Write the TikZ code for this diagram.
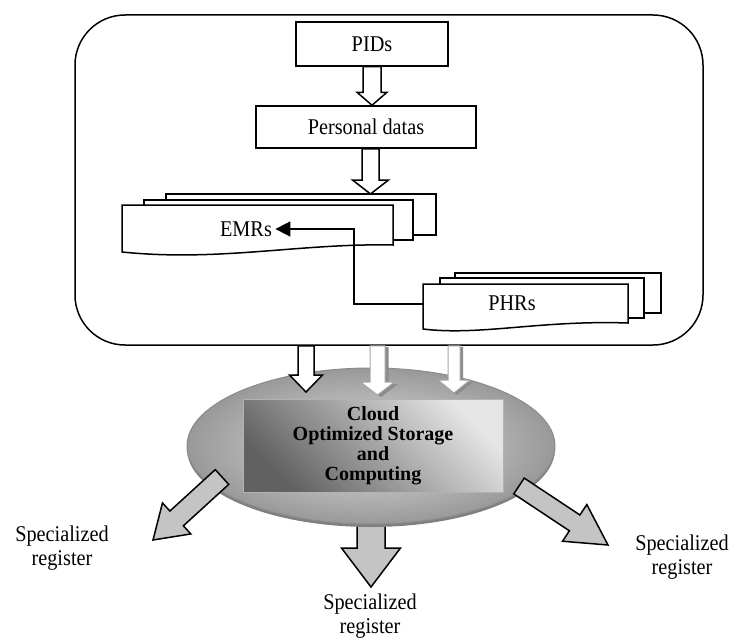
\documentclass[tikz,border=0pt]{standalone}
\usepackage{fontspec}
\setmainfont{Liberation Serif}[FakeStretch=0.9]
\newfontfamily\cloudfont{Liberation Serif}
\usetikzlibrary{shapes.geometric,arrows.meta,calc}

\tikzset{
  txt/.style={font=\fontsize{22.5}{24}\selectfont,align=center},
  rbox/.style={draw,line width=1.5pt,inner sep=0pt},
  sheet/.style={draw,line width=1.5pt,fill=white},
  hollow/.style={draw,line width=1.5pt,fill=white},
  ghost/.style={draw=black!35,line width=1pt,fill=white},
  ghostshade/.style={fill=black!45,draw=none},
  fat/.style={draw,line width=1.5pt,fill=black!23},
  conn/.style={line width=1.8pt,-{Triangle[length=15pt,width=15pt]}},
}

% block arrow: [style]{from}{to}{shaft half width}{head half width}{head length}
\newcommand\blockarrow[6][]{%
  \coordinate (ba-s) at (#2);
  \coordinate (ba-e) at (#3);
  \coordinate (ba-h) at ($(ba-e)!#6!(ba-s)$);
  \path[#1] ($(ba-s)!#4!90:(ba-e)$) -- ($(ba-h)!#4!90:(ba-e)$)
    -- ($(ba-h)!#5!90:(ba-e)$) -- (ba-e)
    -- ($(ba-h)!#5!-90:(ba-e)$) -- ($(ba-h)!#4!-90:(ba-e)$)
    -- ($(ba-s)!#4!-90:(ba-e)$) -- cycle;
}

\begin{document}
\begin{tikzpicture}[x=1pt,y=-1pt]
  \useasboundingbox (0,0) rectangle (736,642);
  \fill[white] (0,0) rectangle (736,642);

  % outer frame and the two upper boxes
  \node[rbox,rounded corners=50pt,minimum width=628pt,minimum height=330pt] (frame) at (389,180) {};
  \node[rbox,txt,minimum width=152pt,minimum height=44pt] (pid) at (372,44) {PIDs};
  \node[rbox,txt,minimum width=220pt,minimum height=42pt] (pdata) at (366,127) {Personal datas};

  % EMRs stack
  \draw[sheet] (166,194) rectangle (436,235);
  \draw[sheet] (144,200) rectangle (413,240);
  \draw[sheet] (122,205) -- (393,205) -- (393,245) .. controls (300,243) and (220,262) .. (122,252) -- cycle;
  \node[txt] (emr) at (246,229) {EMRs};

  % PHRs stack
  \draw[sheet] (455,273) rectangle (661,313);
  \draw[sheet] (440,278) rectangle (644,318);
  \draw[sheet] (423,284) -- (628,284) -- (628,323) .. controls (540,320) and (480,336) .. (423,329) -- cycle;
  \node[txt] (phr) at (512,303) {PHRs};

  \coordinate (phr-in) at (423,304);
  \coordinate (bend) at (354,229);
  \draw[conn] (phr-in) -| (bend) -- (emr.east);

  \blockarrow[hollow]{pid.south}{372,0 |- pdata.north}{9pt}{15pt}{13pt}
  \blockarrow[hollow]{370.5,0 |- pdata.south}{370.5,194}{8.5pt}{18pt}{14pt}

  % cloud
  \blockarrow[fat]{371,500}{371,587}{14pt}{29.5pt}{39pt}
  \fill[black!50] (371,449) ellipse [x radius=184pt,y radius=78pt];
  \node[ellipse,draw=black!45,line width=1pt,inner color=black!12,outer color=black!40,
        minimum width=368pt,minimum height=156pt] (cloud) at (371,446) {};
  \node[draw=black!30,line width=1pt,left color=black!62,right color=black!10,shading angle=135,
        minimum width=260pt,minimum height=93pt,align=center,
        font=\cloudfont\bfseries\fontsize{20}{20}\selectfont] (core) at (373,445.5)
        {Cloud\\Optimized Storage\\and\\Computing};

  % arrows into the cloud
  \blockarrow[hollow]{306,0 |- frame.south}{306,392}{8pt}{16.5pt}{17pt}
  \blockarrow[ghostshade]{381,347}{381,397}{7.5pt}{17pt}{13pt}
  \blockarrow[ghost]{377.5,0 |- frame.south}{377.5,395}{7.5pt}{17pt}{13pt}
  \blockarrow[ghostshade]{457,347}{457,395}{6pt}{16pt}{13pt}
  \blockarrow[ghost]{454,0 |- frame.south}{454,393}{6pt}{16pt}{13pt}

  % arrows out of the cloud
  \blockarrow[fat]{222,477}{153,540}{10pt}{21pt}{32pt}
  \blockarrow[fat]{519,486}{608,545}{9.5pt}{22pt}{40pt}

  \node[txt] (reg-l) at (62,548) {Specialized\\register};
  \node[txt] (reg-m) at (370,616) {Specialized\\register};
  \node[txt] (reg-r) at (682,557) {Specialized\\register};
\end{tikzpicture}
\end{document}
